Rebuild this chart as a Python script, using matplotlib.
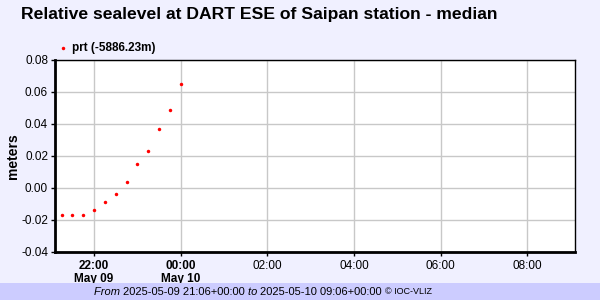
import matplotlib
matplotlib.use("Agg")
import matplotlib.pyplot as plt
from datetime import datetime

plt.rcParams['font.family'] = ['Liberation Sans', 'DejaVu Sans']

# data (15 min samples)
times = ["2025-05-09 21:15", "2025-05-09 21:30", "2025-05-09 21:45",
         "2025-05-09 22:00", "2025-05-09 22:15", "2025-05-09 22:30",
         "2025-05-09 22:45", "2025-05-09 23:00", "2025-05-09 23:15",
         "2025-05-09 23:30", "2025-05-09 23:45", "2025-05-10 00:00"]
levels = [-0.017, -0.017, -0.017, -0.014, -0.009, -0.004,
          0.004, 0.015, 0.023, 0.037, 0.049, 0.065]
t_start = "2025-05-09 21:06"
t_end = "2025-05-10 09:06"
yticks = [-0.04, -0.02, 0.00, 0.02, 0.04, 0.06, 0.08]
xticks = ["2025-05-09 22:00", "2025-05-10 00:00", "2025-05-10 02:00",
          "2025-05-10 04:00", "2025-05-10 06:00", "2025-05-10 08:00"]
xlabels = ["22:00\nMay 09", "00:00\nMay 10", "02:00", "04:00", "06:00", "08:00"]

fmt = "%Y-%m-%d %H:%M"
tt = [datetime.strptime(s, fmt) for s in times]
xt = [datetime.strptime(s, fmt) for s in xticks]

bg = '#F0F0FF'
fig = plt.figure(figsize=(6, 3), dpi=100, facecolor=bg)
ax = fig.add_axes([55/600, 1-252/300, 520/600, 192/300])
ax.set_facecolor('white')

ax.plot(tt, levels, linestyle='none', marker='o', markersize=2.5,
        markeredgewidth=0, color='red')

ax.set_xlim(datetime.strptime(t_start, fmt), datetime.strptime(t_end, fmt))
ax.set_ylim(-0.04, 0.08)
ax.set_yticks(yticks)
ax.set_yticklabels(["%.2f" % v for v in yticks])
ax.set_xticks(xt)
ax.set_xticklabels(xlabels, linespacing=1.05)
for i, lab in enumerate(ax.get_xticklabels()):
    if i < 2:
        lab.set_fontweight('bold')
ax.tick_params(labelsize=8.5, length=3, width=1, colors='black', pad=2)
ax.tick_params(axis='x', pad=3)
ax.grid(True, color='#C8C8C8', linewidth=1)
ax.set_axisbelow(True)
for side in ['left', 'bottom']:
    ax.spines[side].set_linewidth(2)
for side in ['top', 'right']:
    ax.spines[side].set_linewidth(1)
ax.set_ylabel('meters', fontsize=10, fontweight='bold')
ax.yaxis.set_label_coords(-35/520, 0.5)

fig.text(259/600, 1-15/300, 'Relative sealevel at DART ESE of Saipan station - median',
         ha='center', va='center', fontsize=12.6, fontweight='bold')

# legend
fig.lines.append(plt.Line2D([63/600], [1-48/300], marker='o', markersize=2.5,
                            markeredgewidth=0, color='red', linestyle='none',
                            transform=fig.transFigure))
fig.text(72/600, 1-48/300, 'prt (-5886.23m)', ha='left', va='center',
         fontsize=8.5, fontweight='bold')

# footer band
fig.patches.append(plt.Rectangle((0, 0), 1, 17/300, transform=fig.transFigure,
                                 facecolor='#CCCCFF', edgecolor='none', zorder=0))
fy = 1-292/300
parts = [("From ", 'italic', 8), ("2025-05-09 21:06+00:00 ", 'normal', 8),
         ("to ", 'italic', 8), ("2025-05-10 09:06+00:00 ", 'normal', 8),
         ("\u00a9 IOC-VLIZ", 'normal', 6.5)]
fig.canvas.draw()
r = fig.canvas.get_renderer()
widths = []
objs = []
for s, st, sz in parts:
    t = fig.text(0, fy, s, fontsize=sz, style=st, ha='left', va='center')
    objs.append(t)
    widths.append(t.get_window_extent(r).width)
x0 = 263 - sum(widths) / 2
for t, w in zip(objs, widths):
    t.set_x(x0 / 600)
    x0 += w

fig.savefig('out.png', dpi=100, facecolor=bg)
